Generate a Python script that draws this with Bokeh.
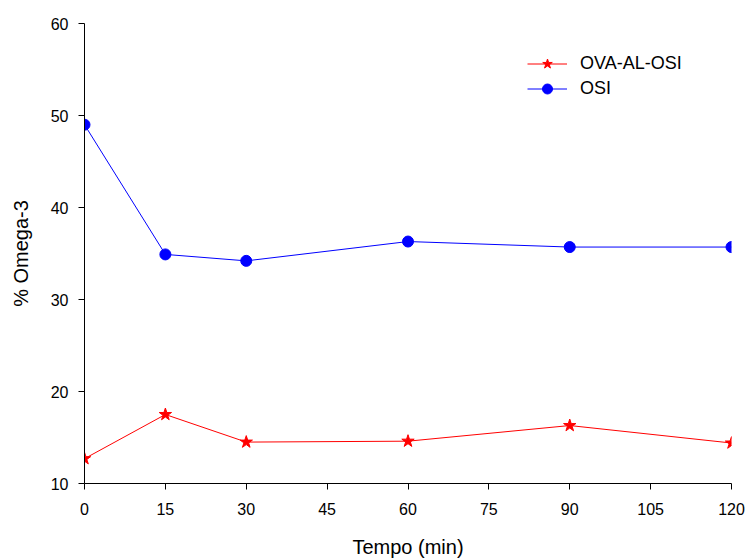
from bokeh.plotting import figure
from bokeh.models import Legend, LegendItem, FixedTicker, Range1d
from bokeh.embed import file_html
from bokeh.resources import INLINE

# Tempo (min) and % Omega-3 per sample
tempo = [0, 15, 30, 60, 90, 120]
ova_al_osi = [12.7, 17.5, 14.5, 14.6, 16.3, 14.4]
osi = [49.0, 34.9, 34.2, 36.3, 35.7, 35.7]

x_ticks = [0, 15, 30, 45, 60, 75, 90, 105, 120]
y_ticks = [10, 20, 30, 40, 50, 60]

FONT = "Liberation Sans"

p = figure(width=747, height=560, output_backend="svg", toolbar_location=None,
           x_range=Range1d(0, 120), y_range=Range1d(10, 60),
           min_border_left=84, min_border_right=16, min_border_top=23, min_border_bottom=76)
p.outline_line_color = None
p.grid.visible = False
p.background_fill_color = "white"

for ax in (p.xaxis[0], p.yaxis[0]):
    ax.axis_line_color = "black"
    ax.axis_line_width = 1
    ax.major_tick_line_color = "black"
    ax.major_tick_out = 6
    ax.major_tick_in = 0
    ax.minor_tick_line_color = None
    ax.major_label_text_font = FONT
    ax.major_label_text_font_size = "16px"
    ax.major_label_text_color = "black"
    ax.axis_label_text_font = FONT
    ax.axis_label_text_font_size = "20px"
    ax.axis_label_text_font_style = "normal"
    ax.axis_label_text_color = "black"

p.xaxis.ticker = FixedTicker(ticks=x_ticks)
p.yaxis.ticker = FixedTicker(ticks=y_ticks)
p.xaxis.axis_label = "Tempo (min)"
p.yaxis.axis_label = "% Omega-3"
p.xaxis.major_label_standoff = 13
p.yaxis.major_label_standoff = 10
p.xaxis.axis_label_standoff = 18
p.yaxis.axis_label_standoff = 16

r_ova_line = p.line(tempo, ova_al_osi, line_color="red", line_width=1)
r_ova_pts = p.scatter(tempo, ova_al_osi, marker="star", size=13,
                      fill_color="red", line_color="red")
r_osi_line = p.line(tempo, osi, line_color="blue", line_width=1)
r_osi_pts = p.scatter(tempo, osi, marker="circle", size=11,
                      fill_color="blue", line_color="blue")

legend = Legend(items=[
    LegendItem(label="OVA-AL-OSI", renderers=[r_ova_line, r_ova_pts]),
    LegendItem(label="OSI", renderers=[r_osi_line, r_osi_pts]),
], location=(443, 382))
legend.border_line_color = None
legend.background_fill_alpha = 0
legend.padding = 0
legend.margin = 0
legend.spacing = 0
legend.glyph_width = 40
legend.glyph_height = 25
legend.label_height = 25
legend.label_standoff = 13
legend.label_text_font = FONT
legend.label_text_font_size = "18px"
legend.label_text_color = "black"
p.add_layout(legend, "center")

open("out.html", "w").write(file_html(p, INLINE))
